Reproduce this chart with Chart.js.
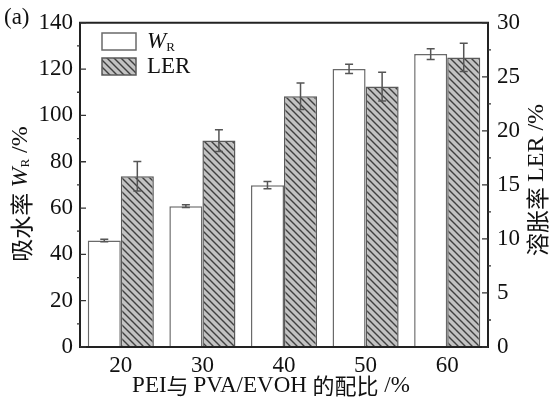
<!DOCTYPE html>
<html>
<head>
<meta charset="utf-8">
<script src="https://cdn.jsdelivr.net/npm/chart.js@4/dist/chart.umd.min.js"></script>
<style>
html,body{margin:0;padding:0;background:#fff;}
#wrap{position:relative;width:556px;height:404px;}
</style>
</head>
<body>
<div id="wrap"><canvas id="c" width="556" height="404"></canvas></div>
<script>
const categories = ['20', '30', '40', '50', '60'];
const wrValues = [46.0, 60.8, 69.9, 120.1, 126.5];
const wrErrors = [0.5, 0.6, 1.6, 2.0, 2.3];
const lerValues = [15.8, 19.1, 23.2, 24.1, 26.8];
const lerErrors = [1.36, 1.0, 1.23, 1.33, 1.3];
const leftTicks = [0, 20, 40, 60, 80, 100, 120, 140];
const rightTicks = [0, 5, 10, 15, 20, 25, 30];

const SERIF = '"Liberation Serif", "DejaVu Serif", serif';
const CJK = '"Noto Sans CJK SC", sans-serif';

function makeHatch() {
  const s = 7;
  const p = document.createElement('canvas');
  p.width = s; p.height = s;
  const g = p.getContext('2d');
  g.fillStyle = '#c2c2c2';
  g.fillRect(0, 0, s, s);
  g.strokeStyle = '#404040';
  g.lineWidth = 1.4;
  g.beginPath();
  g.moveTo(-1, -1); g.lineTo(s + 1, s + 1);
  g.moveTo(-1, s - 1); g.lineTo(1, s + 1);
  g.moveTo(s - 1, -1); g.lineTo(s + 1, 1);
  g.stroke();
  return document.getElementById('c').getContext('2d').createPattern(p, 'repeat');
}
const hatch = makeHatch();

const errorBars = {
  id: 'errorBars',
  afterDatasetsDraw(chart) {
    const ctx = chart.ctx;
    const errs = [wrErrors, lerErrors];
    chart.data.datasets.forEach((ds, i) => {
      const meta = chart.getDatasetMeta(i);
      const sc = chart.scales[ds.yAxisID];
      meta.data.forEach((el, j) => {
        const v = ds.data[j], e = errs[i][j];
        const yt = sc.getPixelForValue(v + e), yb = sc.getPixelForValue(v - e);
        const x = el.x;
        ctx.save();
        ctx.strokeStyle = '#555';
        ctx.lineWidth = 1.5;
        ctx.beginPath();
        ctx.moveTo(x, yt); ctx.lineTo(x, yb);
        ctx.moveTo(x - 4, yt); ctx.lineTo(x + 4, yt);
        ctx.moveTo(x - 4, yb); ctx.lineTo(x + 4, yb);
        ctx.stroke();
        ctx.restore();
      });
    });
  }
};

function drawMixed(ctx, parts, cx, cy) {
  let w = 0;
  parts.forEach(p => { ctx.font = p.font; p.w = ctx.measureText(p.t).width; w += p.w; });
  let x = cx - w / 2;
  ctx.textBaseline = 'middle';
  ctx.textAlign = 'left';
  parts.forEach(p => { ctx.font = p.font; ctx.fillText(p.t, x, cy + (p.dy || 0)); x += p.w; });
}

const decorations = {
  id: 'decorations',
  afterDraw(chart) {
    const ctx = chart.ctx;
    const a = chart.chartArea;
    const yl = chart.scales.y, yr = chart.scales.y1;
    ctx.save();
    ctx.strokeStyle = '#222';
    ctx.lineWidth = 2;
    ctx.beginPath();
    ctx.moveTo(a.left, a.top); ctx.lineTo(a.right, a.top);
    ctx.lineTo(a.right, a.bottom); ctx.lineTo(a.left, a.bottom); ctx.closePath();
    ctx.stroke();
    ctx.strokeStyle = '#333';
    ctx.lineWidth = 1.3;
    ctx.beginPath();
    leftTicks.forEach(v => {
      const y = yl.getPixelForValue(v);
      ctx.moveTo(a.left, y); ctx.lineTo(a.left + 6, y);
    });
    for (let i = 0; i < leftTicks.length - 1; i++) {
      const y = yl.getPixelForValue((leftTicks[i] + leftTicks[i + 1]) / 2);
      ctx.moveTo(a.left, y); ctx.lineTo(a.left - 3, y);
    }
    rightTicks.forEach(v => {
      const y = yr.getPixelForValue(v);
      ctx.moveTo(a.right, y); ctx.lineTo(a.right - 6, y);
    });
    for (let i = 0; i < rightTicks.length - 1; i++) {
      const y = yr.getPixelForValue((rightTicks[i] + rightTicks[i + 1]) / 2);
      ctx.moveTo(a.right, y); ctx.lineTo(a.right + 3, y);
    }
    ctx.stroke();

    ctx.fillStyle = '#111';
    ctx.font = '23px ' + SERIF;
    ctx.textAlign = 'left';
    ctx.textBaseline = 'middle';
    ctx.fillText('(a)', 4, 18);

    const ds = chart.data.datasets;
    const boxes = [{y: 33, ds: ds[0]}, {y: 58, ds: ds[1]}];
    boxes.forEach(b => {
      ctx.fillStyle = b.ds.backgroundColor;
      ctx.fillRect(102, b.y, 34, 17);
      ctx.strokeStyle = b.ds.borderColor;
      ctx.lineWidth = 1.5;
      ctx.strokeRect(102, b.y, 34, 17);
    });
    ctx.fillStyle = '#111';
    ctx.textAlign = 'left';
    ctx.textBaseline = 'middle';
    ctx.font = 'italic 23px ' + SERIF;
    ctx.fillText('W', 147, 42);
    const ww = ctx.measureText('W').width;
    ctx.font = '13px ' + SERIF;
    ctx.fillText('R', 147 + ww, 48);
    ctx.font = '23px ' + SERIF;
    ctx.fillText('LER', 147, 67);

    ctx.save();
    ctx.translate(21, 194);
    ctx.rotate(-Math.PI / 2);
    ctx.fillStyle = '#111';
    drawMixed(ctx, [
      {t: '吸水率 ', font: '23px ' + CJK},
      {t: 'W', font: 'italic 24px ' + SERIF},
      {t: 'R', font: '13px ' + SERIF, dy: 5},
      {t: ' /%', font: '24px ' + SERIF}
    ], 0, 0);
    ctx.restore();

    ctx.save();
    ctx.translate(537, 180);
    ctx.rotate(-Math.PI / 2);
    ctx.fillStyle = '#111';
    drawMixed(ctx, [
      {t: '溶胀率 ', font: '23px ' + CJK},
      {t: 'LER /%', font: '24px ' + SERIF}
    ], 0, 0);
    ctx.restore();

    ctx.fillStyle = '#111';
    drawMixed(ctx, [
      {t: 'PEI', font: '23px ' + SERIF},
      {t: '与 ', font: '22px ' + CJK},
      {t: 'PVA/EVOH ', font: '23px ' + SERIF},
      {t: '的配比', font: '22px ' + CJK},
      {t: ' /%', font: '23px ' + SERIF}
    ], 271, 386);
    ctx.restore();
  }
};

new Chart(document.getElementById('c'), {
  type: 'bar',
  data: {
    labels: categories,
    datasets: [
      {
        label: 'WR',
        data: wrValues,
        yAxisID: 'y',
        backgroundColor: '#ffffff',
        borderColor: '#6a6a6a',
        borderWidth: 1.5,
        categoryPercentage: 0.81,
        barPercentage: 1.0
      },
      {
        label: 'LER',
        data: lerValues,
        yAxisID: 'y1',
        backgroundColor: hatch,
        borderColor: '#5a5a5a',
        borderWidth: 1.5,
        categoryPercentage: 0.81,
        barPercentage: 1.0
      }
    ]
  },
  options: {
    responsive: false,
    animation: false,
    layout: {padding: {top: 17, left: 0, right: 0, bottom: 0}},
    plugins: {legend: {display: false}, tooltip: {enabled: false}},
    scales: {
      x: {
        grid: {display: false, drawTicks: false},
        border: {display: false},
        ticks: {color: '#111', font: {family: SERIF, size: 23}, padding: 5},
        afterFit(s) { s.height = 57; }
      },
      y: {
        position: 'left',
        min: 0, max: 140,
        afterBuildTicks(s) { s.ticks = leftTicks.map(v => ({value: v})); },
        grid: {display: false, drawTicks: false},
        border: {display: false},
        ticks: {color: '#111', font: {family: SERIF, size: 23}, padding: 7},
        afterFit(s) { s.width = 80; }
      },
      y1: {
        position: 'right',
        min: 0, max: 30,
        afterBuildTicks(s) { s.ticks = rightTicks.map(v => ({value: v})); },
        grid: {display: false, drawTicks: false},
        border: {display: false},
        ticks: {color: '#111', font: {family: SERIF, size: 23}, padding: 9},
        afterFit(s) { s.width = 68; }
      }
    }
  },
  plugins: [errorBars, decorations]
});
</script>
</body>
</html>
